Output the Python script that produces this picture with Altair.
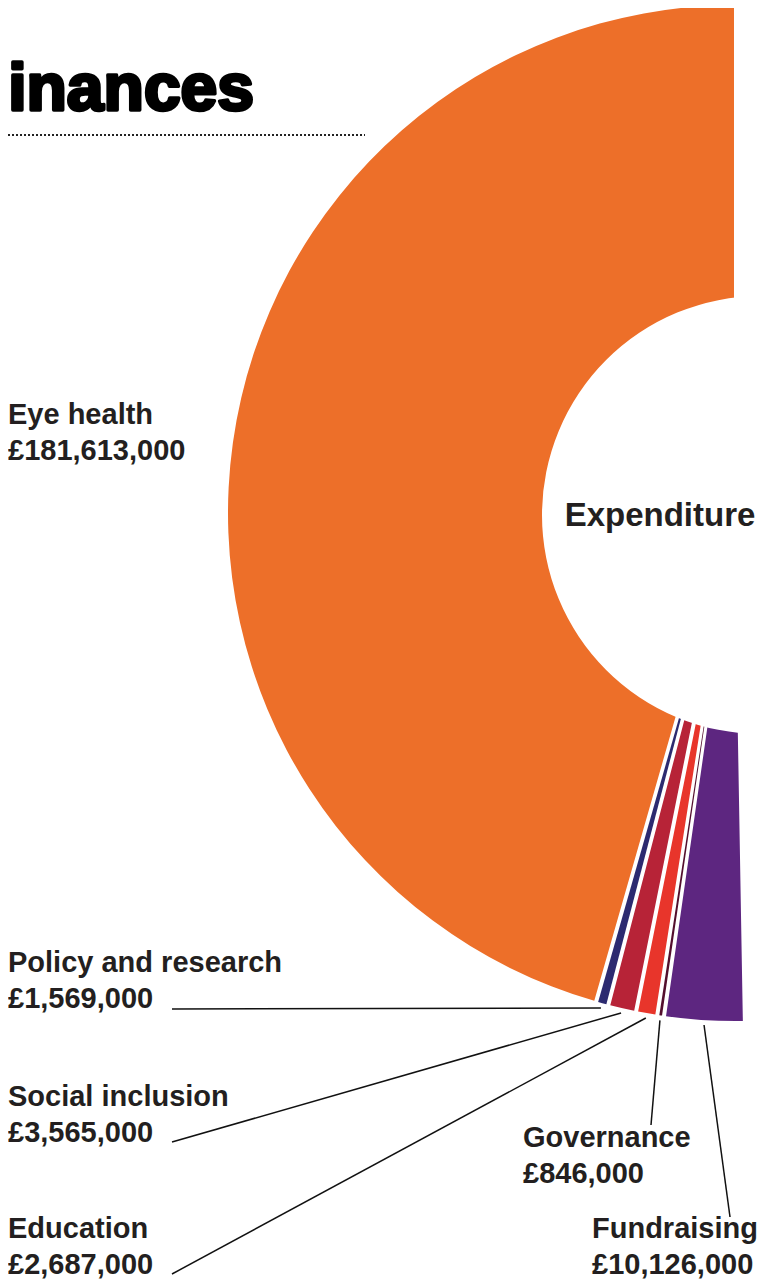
import math
import altair as alt
import pandas as pd

# ---------------- data ----------------
categories = ["Eye health", "Policy and research", "Social inclusion",
              "Education", "Governance", "Fundraising"]
values = [181613000, 1569000, 3565000, 2687000, 846000, 10126000]
colors = ["#ED6F29", "#2C2A70", "#B72337", "#E8352B", "#530F2D", "#5D2680"]

title_text = "Finances"
centre_text = "Expenditure"

# ---------------- layout (chart pixel coordinates) ----------------
W, H = 757, 1271
CX, CY = 728, 505            # centre of the pie
R_OUT, R_IN = 508, 120
HOLE_CX, HOLE_CY, HOLE_R = 753, 507, 219
SPAN = math.radians(181)     # angular extent of the whole expenditure ring
PAD = 0.0077

label_x = [0, 0, 0, 0, 515, 584]
label_y = [416, 964, 1098, 1230, 1139, 1230]
line_x = [None, 164, 164, 164, 643, 722]
line_y = [None, 1001, 1134, 1266, 1117, 1209]

total = sum(values)

df = pd.DataFrame({"category": categories, "value": values,
                   "idx": list(range(len(categories)))})

# leader lines: from label to the middle of each slice (computed from the values)
rows = []
cum = 0
for i, (c, v) in enumerate(zip(categories, values)):
    a0 = cum / total * SPAN
    cum += v
    a1 = cum / total * SPAN
    mid = (a0 + a1) / 2
    if line_x[i] is None:
        continue
    r = R_OUT + 5
    rows.append({"category": c,
                 "x1": line_x[i], "y1": line_y[i],
                 "x2": CX - r * math.sin(mid), "y2": CY - r * math.cos(mid)})
lines_df = pd.DataFrame(rows)

labels_df = pd.DataFrame({
    "lx": label_x, "ly": label_y,
    "label": [f"{c}\n£{v:,}" for c, v in zip(categories, values)],
})

xs = alt.Scale(domain=[0, W], range=[0, W], nice=False, zero=False)
ys = alt.Scale(domain=[0, H], range=[0, H], nice=False, zero=False)

FONT = "Liberation Sans"
TXT = "#231F20"

ring = alt.Chart(df).mark_arc(outerRadius=R_OUT, innerRadius=R_IN, padAngle=PAD).encode(
    theta=alt.Theta("value:Q", stack=True,
                    scale=alt.Scale(domain=[0, total],
                                    range=[2 * math.pi, 2 * math.pi - SPAN])),
    color=alt.Color("category:N", scale=alt.Scale(domain=categories, range=colors),
                    legend=None),
    order=alt.Order("idx:Q", sort="ascending"),
    x=alt.value(CX),
    y=alt.value(CY),
)

# Vega symbol size is the area of the bounding square: side = 2 * radius
hole = alt.Chart(pd.DataFrame({"h": [1]})).mark_circle(
    size=(2 * HOLE_R) ** 2, color="white", opacity=1
).encode(x=alt.value(HOLE_CX), y=alt.value(HOLE_CY))

centre = alt.Chart(pd.DataFrame({"t": [centre_text]})).mark_text(
    font=FONT, fontSize=33, fontWeight="bold", color=TXT,
    align="center", baseline="alphabetic"
).encode(text="t:N", x=alt.value(652), y=alt.value(518))

leaders = alt.Chart(lines_df).mark_rule(color="#111111", strokeWidth=1.5).encode(
    x=alt.X("x1:Q", scale=xs, axis=None),
    y=alt.Y("y1:Q", scale=ys, axis=None),
    x2="x2:Q",
    y2="y2:Q",
)

labels = alt.Chart(labels_df).mark_text(
    font=FONT, fontSize=29, fontWeight="bold", color=TXT,
    align="left", baseline="alphabetic", lineBreak="\n", lineHeight=36
).encode(
    x=alt.X("lx:Q", scale=xs, axis=None),
    y=alt.Y("ly:Q", scale=ys, axis=None),
    text="label:N",
)

title = alt.Chart(pd.DataFrame({"t": [title_text]})).mark_text(
    font=FONT, fontSize=66, fontWeight="bold", color="#000000",
    stroke="#000000", strokeWidth=3.5, strokeJoin="round",
    align="right", baseline="alphabetic"
).encode(text="t:N", x=alt.value(246), y=alt.value(102))

dots = alt.Chart(pd.DataFrame({"d": [1]})).mark_rule(
    color="#222222", strokeWidth=2, strokeDash=[2, 2]
).encode(x=alt.value(0), x2=alt.value(357), y=alt.value(127))

chart = alt.layer(ring, hole, centre, leaders, labels, title, dots).properties(
    width=W, height=H, autosize=alt.AutoSizeParams(type="none"), padding=0
).configure_view(stroke=None)

chart.save("out.html", embed_options={"renderer": "svg", "actions": False})
